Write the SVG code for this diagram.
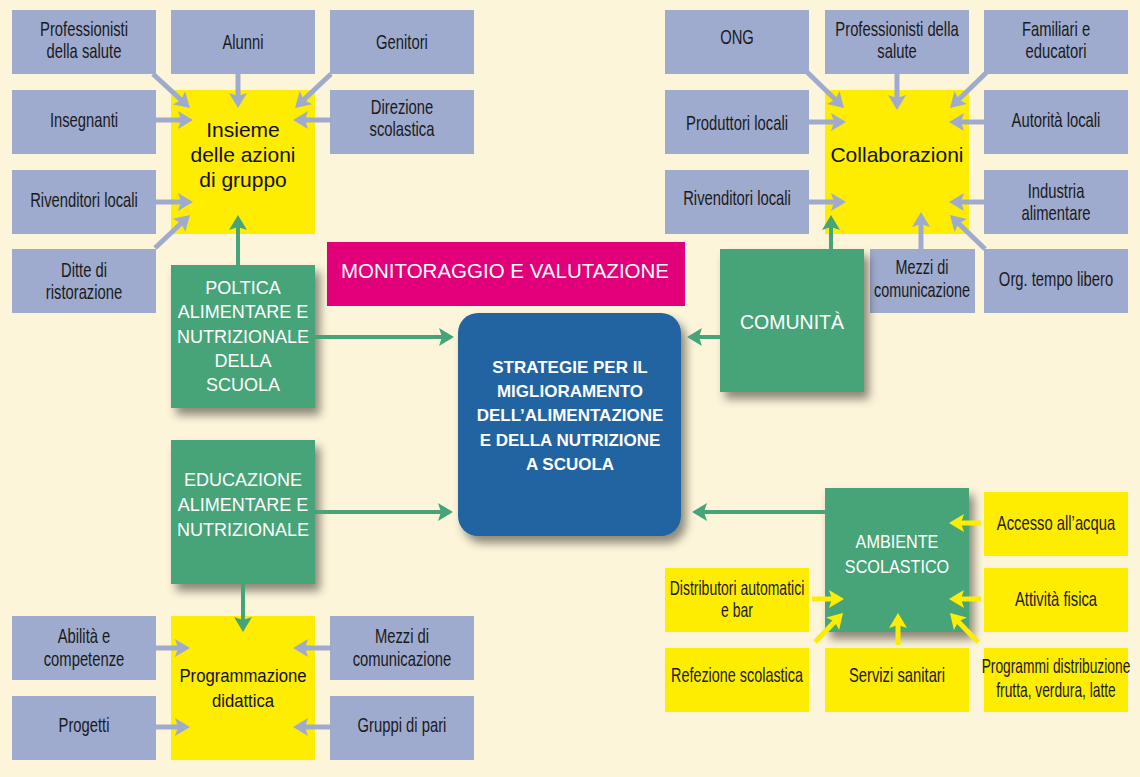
<svg xmlns="http://www.w3.org/2000/svg" width="1140" height="777" viewBox="0 0 1140 777">
<defs>
<style>
.bg{fill:#fdf5da}
.b{fill:#9eabcf}
.y{fill:#ffed00}
.g{fill:#46a479}
.t{font-family:"Liberation Sans",Arial,sans-serif;font-size:20px;fill:#1a1a1a;text-anchor:middle}
.ty{font-family:"Liberation Sans",Arial,sans-serif;font-size:21px;fill:#111;text-anchor:middle}
.tw{font-family:"Liberation Sans",Arial,sans-serif;font-size:18px;fill:#fff;text-anchor:middle}
.tb{font-family:"Liberation Sans",Arial,sans-serif;font-size:17px;font-weight:bold;fill:#fff;text-anchor:middle}
.ca{stroke:#9eabcf;stroke-width:5;fill:none}
.cg{stroke:#46a479;stroke-width:4;fill:none}
.cy{stroke:#ffed00;stroke-width:5;fill:none}
</style>
<filter id="sh" x="-20%" y="-20%" width="150%" height="150%">
<feDropShadow dx="5" dy="7" stdDeviation="5" flood-color="#000" flood-opacity="0.45"/>
</filter>
<marker id="ma" markerUnits="userSpaceOnUse" markerWidth="16" markerHeight="18" refX="4" refY="9" orient="auto" overflow="visible">
<path d="M0,0 L15,9 L0,18 L3,9 Z" fill="#9eabcf"/>
</marker>
<marker id="mg" markerUnits="userSpaceOnUse" markerWidth="16" markerHeight="18" refX="4" refY="9" orient="auto" overflow="visible">
<path d="M0,0 L15,9 L0,18 L3,9 Z" fill="#46a479"/>
</marker>
<marker id="my" markerUnits="userSpaceOnUse" markerWidth="16" markerHeight="18" refX="4" refY="9" orient="auto" overflow="visible">
<path d="M0,0 L15,9 L0,18 L3,9 Z" fill="#ffed00"/>
</marker>
</defs>
<rect class="bg" x="0" y="0" width="1140" height="777"/>

<!-- Top-left cluster -->
<g id="tl-professionisti"><rect class="b" x="12" y="10" width="144" height="64"/><text class="t" transform="translate(84 36) scale(0.74 1)">Professionisti</text><text class="t" transform="translate(84 58) scale(0.74 1)">della salute</text></g>
<g id="tl-alunni"><rect class="b" x="171" y="10" width="144" height="64"/><text class="t" transform="translate(243 49) scale(0.74 1)">Alunni</text></g>
<g id="tl-genitori"><rect class="b" x="330" y="10" width="144" height="64"/><text class="t" transform="translate(402 49) scale(0.74 1)">Genitori</text></g>
<g id="tl-insegnanti"><rect class="b" x="12" y="90" width="144" height="64"/><text class="t" transform="translate(84 127) scale(0.74 1)">Insegnanti</text></g>
<g id="tl-direzione"><rect class="b" x="330" y="90" width="144" height="64"/><text class="t" transform="translate(402 114) scale(0.74 1)">Direzione</text><text class="t" transform="translate(402 136) scale(0.74 1)">scolastica</text></g>
<g id="tl-rivenditori"><rect class="b" x="12" y="170" width="144" height="64"/><text class="t" transform="translate(84 207) scale(0.74 1)">Rivenditori locali</text></g>
<g id="tl-ditte"><rect class="b" x="12" y="249" width="144" height="64"/><text class="t" transform="translate(84 277) scale(0.74 1)">Ditte di</text><text class="t" transform="translate(84 299) scale(0.74 1)">ristorazione</text></g>
<g id="insieme"><rect class="y" x="171" y="90" width="144" height="144"/><text class="ty" x="243" y="137">Insieme</text><text class="ty" x="243" y="162">delle azioni</text><text class="ty" x="243" y="187">di gruppo</text></g>

<!-- Top-right cluster -->
<g id="tr-ong"><rect class="b" x="665" y="10" width="144" height="64"/><text class="t" transform="translate(737 44) scale(0.74 1)">ONG</text></g>
<g id="tr-professionisti"><rect class="b" x="825" y="10" width="144" height="64"/><text class="t" transform="translate(897 36) scale(0.74 1)">Professionisti della</text><text class="t" transform="translate(897 58) scale(0.74 1)">salute</text></g>
<g id="tr-familiari"><rect class="b" x="984" y="10" width="144" height="64"/><text class="t" transform="translate(1056 36) scale(0.74 1)">Familiari e</text><text class="t" transform="translate(1056 58) scale(0.74 1)">educatori</text></g>
<g id="tr-produttori"><rect class="b" x="665" y="90" width="144" height="64"/><text class="t" transform="translate(737 130) scale(0.74 1)">Produttori locali</text></g>
<g id="tr-autorita"><rect class="b" x="984" y="90" width="144" height="64"/><text class="t" transform="translate(1056 127) scale(0.74 1)">Autorità locali</text></g>
<g id="tr-rivenditori"><rect class="b" x="665" y="170" width="144" height="64"/><text class="t" transform="translate(737 205) scale(0.74 1)">Rivenditori locali</text></g>
<g id="tr-industria"><rect class="b" x="984" y="170" width="144" height="64"/><text class="t" transform="translate(1056 198) scale(0.74 1)">Industria</text><text class="t" transform="translate(1056 220) scale(0.74 1)">alimentare</text></g>
<g id="tr-mezzi"><rect class="b" x="870" y="249" width="105" height="64"/><text class="t" transform="translate(922 274) scale(0.72 1)">Mezzi di</text><text class="t" transform="translate(922 297) scale(0.72 1)">comunicazione</text></g>
<g id="tr-org"><rect class="b" x="984" y="249" width="144" height="64"/><text class="t" transform="translate(1056 286) scale(0.74 1)">Org. tempo libero</text></g>
<g id="collaborazioni"><rect class="y" x="825" y="90" width="144" height="144"/><text class="ty" x="897" y="162">Collaborazioni</text></g>

<!-- Centre -->
<g id="monitoraggio"><rect x="327" y="242" width="358" height="64" fill="#e2007a"/><text x="505" y="278" font-family="Liberation Sans, Arial, sans-serif" font-size="20.5" fill="#fff" text-anchor="middle">MONITORAGGIO E VALUTAZIONE</text></g>
<g id="politica"><rect class="g" x="171" y="265" width="144" height="143" filter="url(#sh)"/><text class="tw" x="243" y="294">POLTICA</text><text class="tw" x="243" y="318">ALIMENTARE E</text><text class="tw" x="243" y="343">NUTRIZIONALE</text><text class="tw" x="243" y="367">DELLA</text><text class="tw" x="243" y="391">SCUOLA</text></g>
<g id="strategie"><rect x="458" y="313" width="223" height="223" rx="20" fill="#2163a1" filter="url(#sh)"/><text class="tb" x="570" y="373">STRATEGIE PER IL</text><text class="tb" x="570" y="397">MIGLIORAMENTO</text><text class="tb" x="570" y="421">DELL’ALIMENTAZIONE</text><text class="tb" x="570" y="446">E DELLA NUTRIZIONE</text><text class="tb" x="570" y="470">A SCUOLA</text></g>
<g id="comunita"><rect class="g" x="720" y="249" width="144" height="143" filter="url(#sh)"/><text class="tw" x="792" y="329" style="font-size:19.5px">COMUNITÀ</text></g>
<g id="educazione"><rect class="g" x="171" y="440" width="144" height="144" filter="url(#sh)"/><text class="tw" x="243" y="486">EDUCAZIONE</text><text class="tw" x="243" y="511">ALIMENTARE E</text><text class="tw" x="243" y="536">NUTRIZIONALE</text></g>
<g id="ambiente"><rect class="g" x="825" y="488" width="144" height="144" filter="url(#sh)"/><text class="tw" transform="translate(897 548) scale(0.9 1)" style="font-size:18px">AMBIENTE</text><text class="tw" transform="translate(897 573) scale(0.9 1)" style="font-size:18px">SCOLASTICO</text></g>

<!-- Bottom-left cluster -->
<g id="bl-abilita"><rect class="b" x="12" y="616" width="144" height="64"/><text class="t" transform="translate(84 643) scale(0.74 1)">Abilità e</text><text class="t" transform="translate(84 666) scale(0.74 1)">competenze</text></g>
<g id="bl-progetti"><rect class="b" x="12" y="696" width="144" height="64"/><text class="t" transform="translate(84 732) scale(0.74 1)">Progetti</text></g>
<g id="bl-mezzi"><rect class="b" x="330" y="616" width="144" height="64"/><text class="t" transform="translate(402 643) scale(0.74 1)">Mezzi di</text><text class="t" transform="translate(402 666) scale(0.74 1)">comunicazione</text></g>
<g id="bl-gruppi"><rect class="b" x="330" y="696" width="144" height="64"/><text class="t" transform="translate(402 732) scale(0.74 1)">Gruppi di pari</text></g>
<g id="programmazione"><rect class="y" x="171" y="616" width="144" height="144"/><text class="ty" transform="translate(243 682) scale(0.88 1)" style="font-size:19px">Programmazione</text><text class="ty" transform="translate(243 707) scale(0.88 1)" style="font-size:19px">didattica</text></g>

<!-- Bottom-right cluster -->
<g id="br-accesso"><rect class="y" x="984" y="492" width="144" height="64"/><text class="t" transform="translate(1056 530) scale(0.74 1)">Accesso all’acqua</text></g>
<g id="br-attivita"><rect class="y" x="984" y="568" width="144" height="64"/><text class="t" transform="translate(1056 606) scale(0.74 1)">Attività fisica</text></g>
<g id="br-programmi"><rect class="y" x="984" y="648" width="144" height="64"/><text class="t" transform="translate(1056 673) scale(0.69 1)">Programmi distribuzione</text><text class="t" transform="translate(1056 697) scale(0.69 1)">frutta, verdura, latte</text></g>
<g id="br-distributori"><rect class="y" x="665" y="568" width="144" height="64"/><text class="t" transform="translate(737 595) scale(0.7 1)">Distributori automatici</text><text class="t" transform="translate(737 617) scale(0.7 1)">e bar</text></g>
<g id="br-refezione"><rect class="y" x="665" y="648" width="144" height="64"/><text class="t" transform="translate(737 682) scale(0.72 1)">Refezione scolastica</text></g>
<g id="br-servizi"><rect class="y" x="825" y="648" width="144" height="64"/><text class="t" transform="translate(897 682) scale(0.74 1)">Servizi sanitari</text></g>

<g id="connectors">
<line class="ca" x1="153" y1="74" x2="181.9" y2="100.6" marker-end="url(#ma)"/>
<line class="ca" x1="238" y1="74" x2="238" y2="97" marker-end="url(#ma)"/>
<line class="ca" x1="331" y1="74" x2="303" y2="100.4" marker-end="url(#ma)"/>
<line class="ca" x1="156" y1="120" x2="182" y2="120" marker-end="url(#ma)"/>
<line class="ca" x1="330" y1="120" x2="304" y2="120" marker-end="url(#ma)"/>
<line class="ca" x1="156" y1="202" x2="182" y2="202" marker-end="url(#ma)"/>
<line class="ca" x1="155" y1="248" x2="182" y2="222.5" marker-end="url(#ma)"/>

<line class="ca" x1="807" y1="72" x2="836.1" y2="100.3" marker-end="url(#ma)"/>
<line class="ca" x1="897" y1="74" x2="897" y2="99" marker-end="url(#ma)"/>
<line class="ca" x1="987" y1="72" x2="957.9" y2="100.3" marker-end="url(#ma)"/>
<line class="ca" x1="809" y1="122" x2="835" y2="122" marker-end="url(#ma)"/>
<line class="ca" x1="984" y1="122" x2="960" y2="122" marker-end="url(#ma)"/>
<line class="ca" x1="809" y1="202" x2="835" y2="202" marker-end="url(#ma)"/>
<line class="ca" x1="984" y1="202" x2="960" y2="202" marker-end="url(#ma)"/>
<line class="ca" x1="921" y1="249" x2="921" y2="223" marker-end="url(#ma)"/>
<line class="ca" x1="985" y1="249" x2="957.9" y2="222.7" marker-end="url(#ma)"/>

<line class="ca" x1="156" y1="648" x2="179" y2="648" marker-end="url(#ma)"/>
<line class="ca" x1="156" y1="727" x2="179" y2="727" marker-end="url(#ma)"/>
<line class="ca" x1="330" y1="648" x2="304" y2="648" marker-end="url(#ma)"/>
<line class="ca" x1="330" y1="727" x2="304" y2="727" marker-end="url(#ma)"/>

<line class="cg" x1="238" y1="265" x2="238" y2="226" marker-end="url(#mg)"/>
<line class="cg" x1="315" y1="337" x2="443" y2="337" marker-end="url(#mg)"/>
<line class="cg" x1="315" y1="512" x2="442" y2="512" marker-end="url(#mg)"/>
<line class="cg" x1="243" y1="584" x2="243" y2="621" marker-end="url(#mg)"/>
<line class="cg" x1="831" y1="249" x2="831" y2="226" marker-end="url(#mg)"/>
<line class="cg" x1="720" y1="337" x2="698" y2="337" marker-end="url(#mg)"/>
<line class="cg" x1="825" y1="512" x2="703" y2="512" marker-end="url(#mg)"/>

<line class="cy" x1="981" y1="523" x2="960" y2="523" marker-end="url(#my)"/>
<line class="cy" x1="981" y1="599" x2="960" y2="599" marker-end="url(#my)"/>
<line class="cy" x1="812" y1="599" x2="833" y2="599" marker-end="url(#my)"/>
<line class="cy" x1="815" y1="642" x2="835.4" y2="620.9" marker-end="url(#my)"/>
<line class="cy" x1="898" y1="645" x2="898" y2="624" marker-end="url(#my)"/>
<line class="cy" x1="978" y1="642" x2="957.6" y2="620.9" marker-end="url(#my)"/>
</g>
</svg>
